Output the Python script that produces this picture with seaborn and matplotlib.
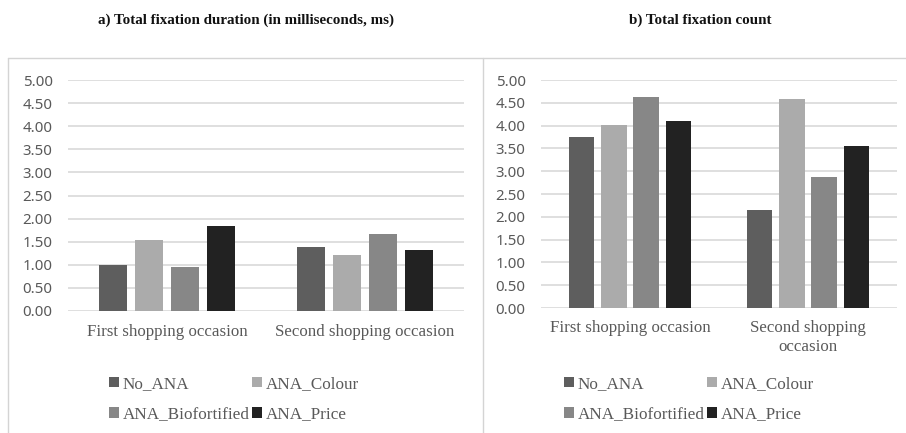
import matplotlib
matplotlib.use("Agg")
import matplotlib.pyplot as plt
from matplotlib.lines import Line2D
from matplotlib.patches import Patch
import seaborn as sns
import pandas as pd

# ---- data ----
occasions = ["First shopping occasion", "Second shopping occasion"]
occasion_labels_b = ["First shopping occasion", "Second shopping\noccasion"]
groups = ["No_ANA", "ANA_Colour", "ANA_Biofortified", "ANA_Price"]
colors = ["#5e5e5e", "#ababab", "#878787", "#222222"]

duration_first = [1.00, 1.54, 0.96, 1.85]
duration_second = [1.39, 1.21, 1.67, 1.31]
count_first = [3.76, 4.02, 4.63, 4.10]
count_second = [2.15, 4.59, 2.88, 3.55]

yticks = [0.0, 0.5, 1.0, 1.5, 2.0, 2.5, 3.0, 3.5, 4.0, 4.5, 5.0]

title_a = "a) Total fixation duration (in milliseconds, ms)"
title_b = "b) Total fixation count"


def long_table(first, second):
    rows = []
    for occ, vals in zip(occasions, [first, second]):
        for g, v in zip(groups, vals):
            rows.append({"occasion": occ, "group": g, "value": v})
    return pd.DataFrame(rows)


sns.set_style("white")
plt.rcParams["font.family"] = ["Liberation Serif", "DejaVu Serif"]

W, H = 906, 433
fig = plt.figure(figsize=(W / 100, H / 100), dpi=100)


def px_axes(x0, y_top, x1, y_bot):
    return fig.add_axes([x0 / W, 1 - y_bot / H, (x1 - x0) / W, (y_bot - y_top) / H])


grid_col = "#d9d9d9"
text_col = "#595959"
frame_col = "#d4d4d4"

panels = [
    (px_axes(68, 80, 464, 311), duration_first, duration_second, occasions),
    (px_axes(541, 80, 897, 308), count_first, count_second, occasion_labels_b),
]

for ax, first, second, xlabels in panels:
    df = long_table(first, second)
    sns.barplot(data=df, x="occasion", y="value", hue="group", hue_order=groups,
                palette=colors, saturation=1, width=0.727, gap=0.2,
                linewidth=0, legend=False, ax=ax)
    ax.set_ylim(0, 5)
    ax.set_xlim(-0.5, 1.5)
    ax.set_yticks(yticks)
    ax.set_yticklabels([f"{t:.2f}" for t in yticks], family="Noto Sans",
                       fontsize=10.8, color=text_col)
    ax.set_xticks([0, 1])
    ax.set_xticklabels(xlabels, fontsize=12.2, color=text_col,
                       linespacing=1.2, va="top")
    ax.tick_params(axis="both", length=0)
    ax.tick_params(axis="x", pad=9)
    ax.tick_params(axis="y", pad=11)
    ax.set_xlabel("")
    ax.set_ylabel("")
    ax.yaxis.grid(True, color=grid_col, linewidth=1.2)
    ax.set_axisbelow(True)
    for s in ax.spines.values():
        s.set_visible(False)

# titles
fig.text(246 / W, 1 - 20 / H, title_a, ha="center", va="center",
         fontsize=10.8, fontweight="bold", color="#111111")
fig.text(700 / W, 1 - 20 / H, title_b, ha="center", va="center",
         fontsize=10.8, fontweight="bold", color="#111111")

# chart-area frames
for xs, ys in [([8, 906], [58, 58]), ([8, 8], [58, 433]), ([483, 483], [58, 433])]:
    fig.add_artist(Line2D([x / W for x in xs], [1 - y / H for y in ys],
                          color=frame_col, linewidth=1.0))

# legends, filled row by row (matplotlib fills column by column)
order = [0, 2, 1, 3]
handles = [Patch(facecolor=colors[i], edgecolor="none") for i in order]
labels = [groups[i] for i in order]
for x_left in [109, 564]:
    leg = fig.legend(handles, labels, ncol=2, loc="upper left",
                     bbox_to_anchor=(x_left / W, 1 - 376 / H),
                     frameon=False, fontsize=12.3, handlelength=0.6,
                     handleheight=0.6, handletextpad=0.2, columnspacing=0.15,
                     labelspacing=0.85, borderpad=0, borderaxespad=0)
    for t in leg.get_texts():
        t.set_color(text_col)

fig.savefig("out.png", dpi=100)
